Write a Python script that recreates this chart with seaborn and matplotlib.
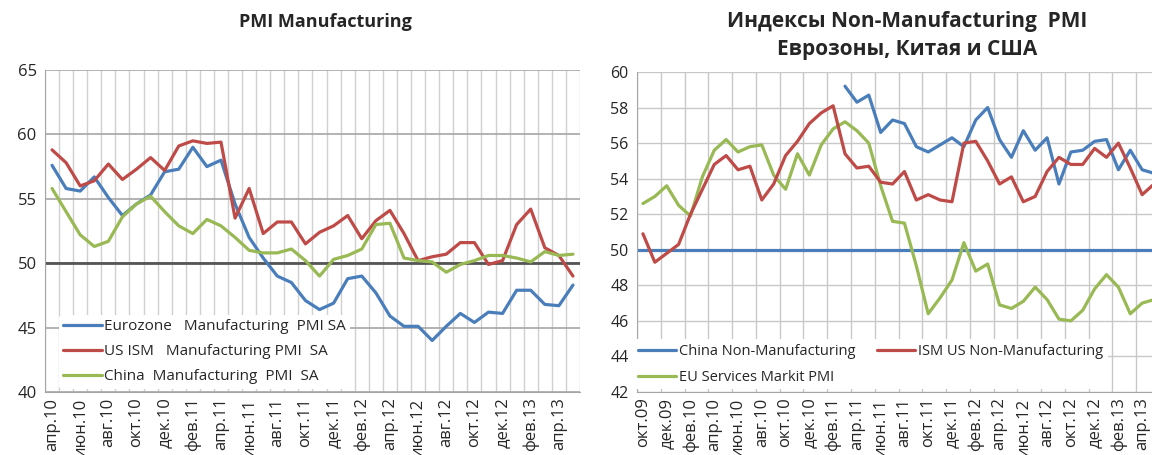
import numpy as np
import pandas as pd
import matplotlib
matplotlib.use("Agg")
import matplotlib.pyplot as plt
from matplotlib.ticker import FixedLocator, MultipleLocator
import seaborn as sns

# ==========================================
# DATA
# ==========================================

# Left chart: monthly, апр.10 ... май.13
eurozone_mfg = [57.6, 55.8, 55.6, 56.7, 55.1, 53.7, 54.6, 55.3, 57.1, 57.3,
                59.0, 57.5, 58.0, 54.6, 52.0, 50.4, 49.0, 48.5, 47.1, 46.4,
                46.9, 48.8, 49.0, 47.7, 45.9, 45.1, 45.1, 44.0, 45.1, 46.1,
                45.4, 46.2, 46.1, 47.9, 47.9, 46.8, 46.7, 48.3]
us_ism_mfg = [58.8, 57.8, 56.0, 56.4, 57.7, 56.5, 57.3, 58.2, 57.2, 59.1,
              59.5, 59.3, 59.4, 53.5, 55.8, 52.3, 53.2, 53.2, 51.5, 52.4,
              52.9, 53.7, 51.9, 53.3, 54.1, 52.3, 50.2, 50.5, 50.7, 51.6,
              51.6, 49.9, 50.2, 53.0, 54.2, 51.2, 50.6, 49.0]
china_mfg = [55.8, 54.0, 52.2, 51.3, 51.7, 53.6, 54.6, 55.2, 54.0, 52.9,
             52.3, 53.4, 52.9, 52.0, 51.0, 50.8, 50.8, 51.1, 50.2, 49.0,
             50.3, 50.6, 51.1, 53.0, 53.1, 50.4, 50.2, 50.1, 49.3, 49.9,
             50.2, 50.6, 50.6, 50.4, 50.1, 50.9, 50.6, 50.7]
left_ticklabels = ["апр.10", "июн.10", "авг.10", "окт.10", "дек.10", "фев.11",
                   "апр.11", "июн.11", "авг.11", "окт.11", "дек.11", "фев.12",
                   "апр.12", "июн.12", "авг.12", "окт.12", "дек.12", "фев.13",
                   "апр.13"]

# Right chart: monthly, окт.09 ... май.13
china_nonmfg = [np.nan] * 17 + [
    59.2, 58.3, 58.7, 56.6, 57.3, 57.1, 55.8, 55.5, 55.9, 56.3,
    55.8, 57.3, 58.0, 56.2, 55.2, 56.7, 55.6, 56.3, 53.7, 55.5,
    55.6, 56.1, 56.2, 54.5, 55.6, 54.5, 54.3]
ism_us_nonmfg = [50.9, 49.3, 49.8, 50.3, 52.0, 53.4, 54.8, 55.3, 54.5, 54.7,
                 52.8, 53.7, 55.3, 56.1, 57.1, 57.7, 58.1, 55.4, 54.6, 54.7,
                 53.8, 53.7, 54.4, 52.8, 53.1, 52.8, 52.7, 56.0, 56.1, 55.0,
                 53.7, 54.1, 52.7, 53.0, 54.4, 55.2, 54.8, 54.8, 55.7, 55.2,
                 56.0, 54.6, 53.1, 53.7]
eu_services = [52.6, 53.0, 53.6, 52.5, 51.9, 54.1, 55.6, 56.2, 55.5, 55.8,
               55.9, 54.2, 53.4, 55.4, 54.2, 55.9, 56.8, 57.2, 56.7, 56.0,
               53.6, 51.6, 51.5, 49.1, 46.4, 47.3, 48.3, 50.4, 48.8, 49.2,
               46.9, 46.7, 47.1, 47.9, 47.2, 46.1, 46.0, 46.6, 47.8, 48.6,
               47.9, 46.4, 47.0, 47.2]
right_ticklabels = ["окт.09", "дек.09", "фев.10", "апр.10", "июн.10", "авг.10",
                    "окт.10", "дек.10", "фев.11", "апр.11", "июн.11", "авг.11",
                    "окт.11", "дек.11", "фев.12", "апр.12", "июн.12", "авг.12",
                    "окт.12", "дек.12", "фев.13", "апр.13"]

BLUE = "#4A7EBB"
RED = "#BE4B48"
GREEN = "#98B954"

sns.set_style("white")
plt.rcParams["font.family"] = ["Open Sans", "DejaVu Sans"]

fig = plt.figure(figsize=(11.52, 4.55), dpi=100)
W, H = 1152, 455


def px_axes(x0, y0, x1, y1):
    return fig.add_axes([x0 / W, 1 - y1 / H, (x1 - x0) / W, (y1 - y0) / H])


# ==========================================
# LEFT: PMI Manufacturing
# ==========================================
ax1 = px_axes(45, 70, 580, 392)
n1 = len(eurozone_mfg)
x1 = np.arange(n1)
df1 = pd.DataFrame({"x": x1, "eu": eurozone_mfg, "us": us_ism_mfg, "cn": china_mfg})

ax1.set_ylim(40, 65)
ax1.set_xlim(-0.5, n1 - 0.5)
ax1.yaxis.set_major_locator(MultipleLocator(5))
ax1.grid(axis="y", color="#A6A6A6", linewidth=1.2)
ax1.xaxis.set_minor_locator(FixedLocator(np.arange(-0.5, n1, 1)))
ax1.grid(axis="x", which="minor", color="#D0D0D0", linewidth=1)
ax1.axhline(50, color="#555555", linewidth=2, zorder=1.5)

sns.lineplot(data=df1, x="x", y="eu", ax=ax1, color=BLUE, linewidth=2.3,
             label="Eurozone   Manufacturing  PMI SA")
sns.lineplot(data=df1, x="x", y="us", ax=ax1, color=RED, linewidth=2.3,
             label="US ISM   Manufacturing PMI  SA")
sns.lineplot(data=df1, x="x", y="cn", ax=ax1, color=GREEN, linewidth=2.3,
             label="China  Manufacturing  PMI  SA")

ax1.set_xticks(x1[::2])
ax1.set_xticklabels(left_ticklabels, rotation=90)
ax1.tick_params(axis="x", which="both", length=0, labelsize=12, pad=4)
ax1.tick_params(axis="y", length=4, color="#A6A6A6", labelsize=12, pad=2)
ax1.set_xlabel("")
ax1.set_ylabel("")
for s in ["top", "right"]:
    ax1.spines[s].set_visible(False)
ax1.spines["left"].set_color("#A6A6A6")
ax1.spines["bottom"].set_color("#A6A6A6")
ax1.legend(loc="lower left", bbox_to_anchor=(0.02, 0.0), frameon=True,
           facecolor="white", edgecolor="none", framealpha=1,
           fontsize=11, handlelength=2.5, handletextpad=0.15,
           labelspacing=0.65, borderpad=0.3, borderaxespad=0.2)

fig.text(325 / W, 1 - 22 / H, "PMI Manufacturing", ha="center", va="center",
         fontsize=13, fontweight="bold")

# ==========================================
# RIGHT: Non-Manufacturing PMI
# ==========================================
ax2 = px_axes(637, 72, 1160, 392)
n2 = len(ism_us_nonmfg)
x2 = np.arange(n2)
df2 = pd.DataFrame({"x": x2, "cn": china_nonmfg, "us": ism_us_nonmfg, "eu": eu_services})

ax2.set_ylim(42, 60)
ax2.set_xlim(-0.5, n2 - 0.5)
ax2.yaxis.set_major_locator(MultipleLocator(2))
ax2.grid(axis="y", color="#C8C8C8", linewidth=1)
ax2.xaxis.set_minor_locator(FixedLocator(np.arange(-0.5, n2, 2)))
ax2.grid(axis="x", which="minor", color="#C8C8C8", linewidth=1)
ax2.axhline(50, color=BLUE, linewidth=2.3, zorder=1.5)

sns.lineplot(data=df2, x="x", y="cn", ax=ax2, color=BLUE, linewidth=2.3,
             label="China Non-Manufacturing")
sns.lineplot(data=df2, x="x", y="eu", ax=ax2, color=GREEN, linewidth=2.3,
             label="EU Services Markit PMI")
sns.lineplot(data=df2, x="x", y="us", ax=ax2, color=RED, linewidth=2.3,
             label="ISM US Non-Manufacturing")

ax2.set_xticks(x2[::2][:len(right_ticklabels)])
ax2.set_xticklabels(right_ticklabels, rotation=90)
ax2.tick_params(axis="x", which="both", length=0, labelsize=12, pad=4)
ax2.tick_params(axis="y", length=4, color="#A6A6A6", labelsize=11.5, pad=2)
ax2.set_xlabel("")
ax2.set_ylabel("")
for s in ["top", "right"]:
    ax2.spines[s].set_visible(False)
ax2.spines["left"].set_color("#A6A6A6")
ax2.spines["bottom"].set_color("#A6A6A6")
ax2.legend(loc="lower left", bbox_to_anchor=(-0.012, 0.0), ncol=2,
           frameon=True, facecolor="white", edgecolor="none", framealpha=1,
           fontsize=10.5, handlelength=2.6, handletextpad=0.2,
           labelspacing=0.75, columnspacing=1.5, borderpad=0.3,
           borderaxespad=0.2)

fig.text(907 / W, 1 - 22 / H, "Индексы Non-Manufacturing  PMI", ha="center",
         va="center", fontsize=15, fontweight="bold")
fig.text(907 / W, 1 - 50 / H, "Еврозоны, Китая и США", ha="center",
         va="center", fontsize=15, fontweight="bold")

fig.savefig("out.png", dpi=100)
